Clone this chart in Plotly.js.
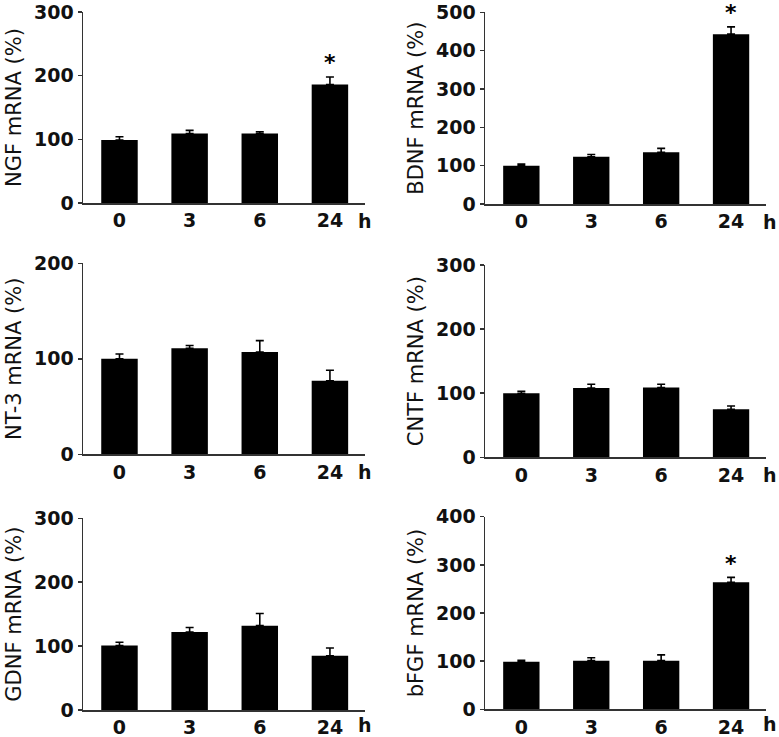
<!DOCTYPE html>
<html>
<head>
<meta charset="utf-8">
<script src="https://cdn.plot.ly/plotly-3.0.1.min.js"></script>
<style>html,body{margin:0;padding:0;background:#fff;}#chart{width:779px;height:737px;}</style>
</head>
<body>
<div id="chart"></div>
<script>
// ---- data ----
const hours = ["0", "3", "6", "24"];

const ngfMean  = [99, 109, 109, 186];
const ngfSem   = [5, 5, 3, 12];
const bdnfMean = [100, 123, 135, 443];
const bdnfSem  = [4, 6, 10, 19];
const nt3Mean  = [100, 111, 107, 77];
const nt3Sem   = [5, 3, 12, 11];
const cntfMean = [100, 108, 109, 75];
const cntfSem  = [3, 6, 5, 5];
const gdnfMean = [101, 122, 132, 85];
const gdnfSem  = [5, 7, 19, 12];
const bfgfMean = [99, 101, 101, 264];
const bfgfSem  = [3, 6, 12, 10];

const panelTitles = ["NGF mRNA (%)", "BDNF mRNA (%)", "NT-3 mRNA (%)", "CNTF mRNA (%)", "GDNF mRNA (%)", "bFGF mRNA (%)"];
const panelMeans = [ngfMean, bdnfMean, nt3Mean, cntfMean, gdnfMean, bfgfMean];
const panelSems  = [ngfSem, bdnfSem, nt3Sem, cntfSem, gdnfSem, bfgfSem];
const yMax = [300, 500, 200, 300, 300, 400];
const yTicks = [[0,100,200,300],[0,100,200,300,400,500],[0,100,200],[0,100,200,300],[0,100,200,300],[0,100,200,300,400]];
// significance markers (*) at 24 h in these panels
const sigPanels = [0, 1, 5];
const sigCategory = "24";
const unitLabel = "h";

// ---- layout geometry ----
const W = 779, H = 737;
const xDomL = [83 / W, 365 / W];
const xDomR = [485 / W, 766 / W];
const yDoms = [
  [1 - 203 / H, 1 - 12 / H],
  [1 - 204 / H, 1 - 12.3 / H],
  [1 - 454.3 / H, 1 - 263.3 / H],
  [1 - 457.3 / H, 1 - 265 / H],
  [1 - 710 / H, 1 - 518.3 / H],
  [1 - 709.3 / H, 1 - 516.7 / H]
];

const tickFont = {family: "DejaVu Sans", size: 19, color: "#111", weight: "bold"};
const titleFont = {family: "DejaVu Sans", size: 21, color: "#111"};

const traces = [];
const layout = {
  width: W, height: H,
  margin: {l: 0, r: 0, t: 0, b: 0},
  paper_bgcolor: "#fff", plot_bgcolor: "#fff",
  showlegend: false,
  annotations: []
};

for (let i = 0; i < 6; i++) {
  const n = i + 1;
  const xa = n === 1 ? "x" : "x" + n;
  const ya = n === 1 ? "y" : "y" + n;
  traces.push({
    type: "bar",
    x: hours,
    y: panelMeans[i],
    xaxis: xa, yaxis: ya,
    width: 0.52,
    marker: {color: "#000", line: {color: "#000", width: 0}},
    error_y: {type: "data", symmetric: false, array: panelSems[i], arrayminus: [0,0,0,0],
              color: "#000", thickness: 1.6, width: 4},
    hoverinfo: "none"
  });
  const left = i % 2 === 0;
  layout["xaxis" + (n === 1 ? "" : n)] = {
    domain: left ? xDomL : xDomR,
    anchor: ya,
    type: "category",
    range: [-0.52, 3.5],
    showline: true, linecolor: "#333", linewidth: 1.5,
    ticks: "", showgrid: false, zeroline: false,
    tickfont: tickFont,
    fixedrange: true
  };
  layout["yaxis" + (n === 1 ? "" : n)] = {
    domain: yDoms[i],
    anchor: xa,
    range: [0, yMax[i]],
    tickvals: yTicks[i],
    showline: true, linecolor: "#333", linewidth: 1.5,
    ticks: "outside", ticklen: 4, tickwidth: 1.5, tickcolor: "#333",
    showgrid: false, zeroline: false,
    tickfont: tickFont,
    title: {text: panelTitles[i], font: titleFont, standoff: 6},
    fixedrange: true
  };
  layout.annotations.push({
    xref: "paper", yref: "paper",
    x: (left ? 365 : 770) / W, y: yDoms[i][0] - (i >= 4 ? 15 : 18) / H,
    text: unitLabel, showarrow: false,
    font: tickFont, xanchor: "center", yanchor: "middle"
  });
}

sigPanels.forEach(function (p) {
  const n = p + 1;
  const idx = hours.indexOf(sigCategory);
  layout.annotations.push({
    xref: n === 1 ? "x" : "x" + n,
    yref: n === 1 ? "y" : "y" + n,
    x: idx,
    y: panelMeans[p][idx] + panelSems[p][idx],
    text: "*", showarrow: false,
    font: {family: "DejaVu Sans", size: 22, color: "#000", weight: "bold"},
    xanchor: "center", yanchor: "middle", yshift: 14
  });
});

Plotly.newPlot("chart", traces, layout, {staticPlot: true, displayModeBar: false});
</script>
</body>
</html>
